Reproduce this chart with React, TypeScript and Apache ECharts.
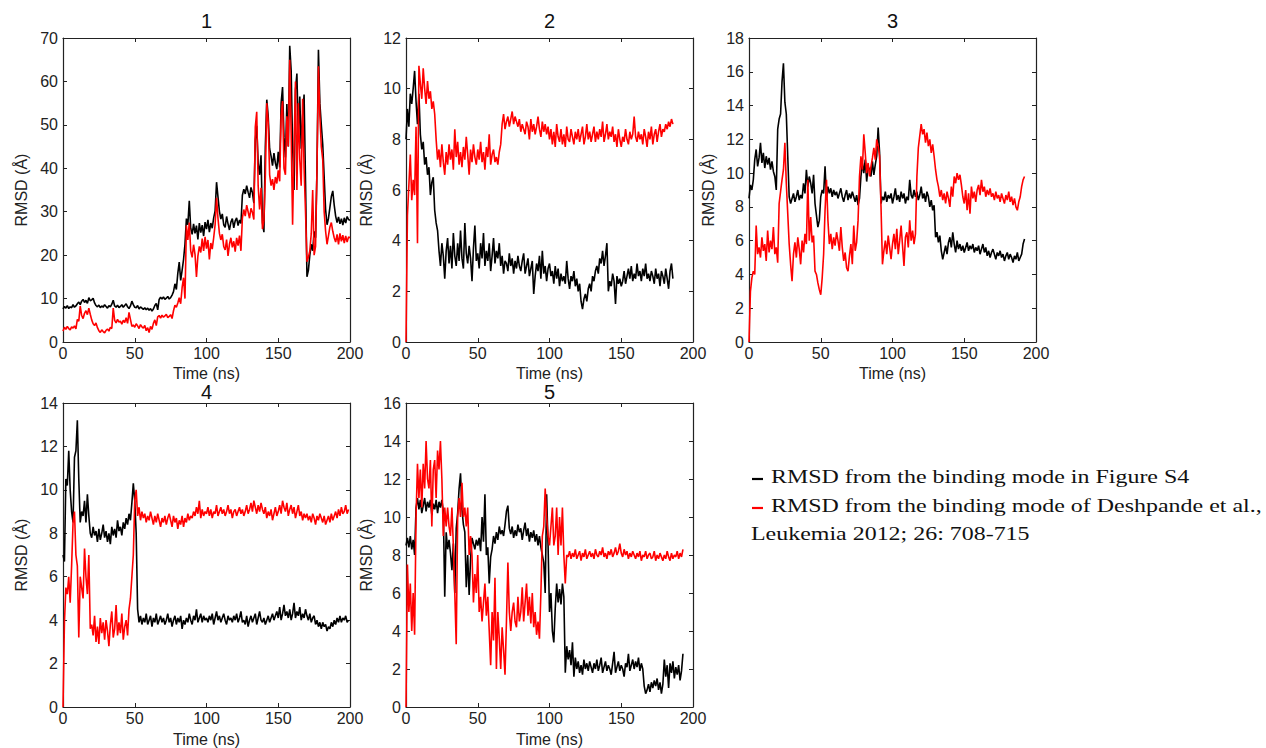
import React, { useEffect, useRef } from "react";
import * as echarts from "echarts";

// ---- data (sampled every 1 ns) ----
const SAMPLE_NS = 1;
const panelTitles = ["1", "2", "3", "4", "5"];
const yMaxes = [70, 12, 18, 14, 16];
const yIntervals = [10, 2, 2, 2, 2];
const xMax = 200;
const xInterval = 50;
const yAxisName = "RMSD (Å)";
const xAxisName = "Time (ns)";
const legendLines = [
  "RMSD from the binding mode in Figure S4",
  "RMSD from the binding mode of Deshpande et al.,",
  "Leukemia 2012; 26: 708-715",
];

const p1Black = [
  7.6, 8.2, 7.8, 8.4, 7.7, 8.1, 7.9, 8.6, 8.0, 8.3,
  8.8, 9.2, 8.6, 9.4, 9.8, 9.1, 9.6, 8.9, 10.2, 9.5,
  9.7, 10.1, 9.0, 8.4, 8.1, 8.5, 7.9, 8.3, 8.0, 8.6,
  8.2, 7.8, 8.4, 8.1, 8.7, 9.6, 8.3, 8.0, 8.5, 7.9,
  8.2, 8.6, 8.0, 8.4, 8.8, 8.1, 7.7, 8.3, 9.4, 8.6,
  8.0, 7.9, 8.4, 7.6, 8.1, 7.8, 7.5, 7.9, 7.4, 7.8,
  7.3, 7.7, 7.1, 7.6, 8.4, 8.9, 7.4, 9.8, 10.3, 9.9,
  10.4, 9.8, 10.1, 10.5, 9.9, 10.2, 10.8, 11.6, 13.4, 12.1,
  15.8, 18.4, 14.2, 16.5, 19.0, 22.5, 28.4, 27.0, 32.5, 26.2,
  24.8, 27.2, 25.0, 26.8, 23.6, 27.4, 25.2, 26.9, 24.4, 27.6,
  26.0, 28.1, 25.3, 27.4, 26.2, 28.6, 30.2, 36.8, 33.4, 30.1,
  28.3, 29.5, 27.0, 26.4, 28.9, 27.2, 25.8, 27.6, 28.4, 26.3,
  27.9, 28.6, 26.8, 28.1, 27.3, 33.8, 35.2, 34.1, 36.0, 34.5,
  33.2, 35.6, 34.4, 32.0, 46.5, 49.8, 41.2, 38.5, 43.0, 27.5,
  25.3, 45.0, 55.8, 52.0, 44.5, 42.8, 40.6, 43.5, 41.2, 39.8,
  43.8, 40.2, 55.0, 58.7, 47.0, 42.5, 54.8, 45.0, 68.2, 62.5,
  45.2, 35.0, 58.0, 61.8, 47.0, 56.5, 44.5, 52.0, 57.0, 37.0,
  15.0, 16.5, 20.0, 22.5, 21.0, 25.5, 24.0, 40.0, 67.3, 55.0,
  50.0, 45.5, 38.0, 30.5, 27.0, 28.5, 31.0, 33.5, 34.8, 31.5,
  29.0, 27.5, 28.8, 27.2, 28.4, 26.9, 28.6, 27.4, 28.9, 28.2,
  28.0,
];
const p1Red = [
  2.5, 3.4, 2.9, 3.6, 3.1, 2.8, 3.5, 3.2, 3.7, 3.0,
  5.2, 4.8, 8.3, 6.1, 5.4, 6.6, 7.2, 6.3, 7.8, 6.4,
  5.1, 4.2, 3.8, 4.4, 3.3, 2.6, 2.2, 2.8, 2.4, 2.1,
  2.7, 3.0, 2.5, 3.4, 3.1, 7.8, 5.0, 4.4, 5.2, 4.6,
  4.8, 4.1, 5.0, 4.5, 5.6, 4.3, 6.8, 5.2, 3.6, 3.9,
  3.4, 4.2, 3.7, 3.1, 4.0, 3.5, 3.2, 3.8, 2.6, 3.3,
  2.2, 3.6, 2.9, 4.3, 5.1, 3.8, 5.8, 6.1, 5.5, 6.2,
  5.7, 6.0, 6.4, 5.6, 5.9, 6.3, 5.4, 7.2, 8.5, 8.0,
  9.0, 10.2, 8.8, 12.5, 14.8, 10.0, 26.8, 23.5, 27.5, 21.0,
  19.5, 22.4, 20.2, 15.0, 19.8, 22.0, 20.6, 23.8, 21.0, 24.2,
  21.5, 23.5, 19.0, 22.8, 21.4, 24.0, 27.0, 33.2, 28.5, 25.0,
  23.5, 24.8, 22.0, 21.2, 23.6, 19.8, 22.5, 24.0, 21.8, 23.2,
  20.8, 24.0, 22.2, 24.5, 21.0, 28.5, 30.5, 29.0, 31.5, 30.0,
  28.5, 30.8, 29.8, 28.2, 49.5, 53.0, 36.0, 30.5, 35.5, 26.0,
  28.0, 38.0, 55.0, 50.5, 38.5, 36.0, 37.5, 35.0, 38.0, 36.5,
  39.5, 37.0, 52.0, 55.5, 40.0, 38.5, 52.0, 45.0, 65.0, 48.0,
  27.0, 45.0, 60.0, 35.0, 55.0, 42.0, 36.0, 56.0, 40.0, 30.0,
  18.5, 19.5, 21.0, 25.0, 35.0, 20.0, 22.0, 40.0, 63.5, 52.0,
  45.0, 42.0, 30.0, 25.5, 22.5, 24.5, 26.5, 27.5, 25.5, 24.0,
  23.0, 24.8, 22.5, 25.0, 23.2, 24.6, 22.8, 24.4, 23.0, 24.2,
  24.0,
];

const p2Black = [
  8.0, 9.2, 8.5, 9.8, 9.4, 10.0, 10.7, 9.5, 8.6, 9.8,
  8.2, 7.6, 7.9, 7.0, 7.3, 6.6, 6.9, 5.8, 6.3, 6.5,
  5.2, 4.7, 4.4, 3.6, 3.0, 3.9, 3.4, 2.5, 3.6, 4.1,
  3.1, 3.8, 2.9, 4.3, 3.4, 3.0, 3.9, 3.2, 4.4, 3.3,
  2.9, 4.7, 3.5, 3.1, 3.8, 3.3, 2.4, 3.7, 4.6, 3.2,
  3.5, 2.9, 3.9, 3.3, 4.3, 3.0, 3.6, 3.2, 3.9, 2.8,
  3.4, 4.1, 3.1, 3.6, 3.3, 3.9, 3.0, 3.4, 2.7, 3.2,
  3.1, 2.8, 3.5, 3.0, 3.3, 2.7, 3.2, 2.9, 3.4, 3.0,
  2.8, 3.2, 3.5, 2.7, 3.0, 3.3, 2.6, 2.9, 3.2, 1.9,
  2.6, 3.1, 2.8, 3.4, 2.5, 3.6, 2.7, 3.0, 2.4, 2.9,
  3.1, 2.6, 2.8, 2.3, 3.0, 2.5, 2.9, 2.2, 2.7, 2.4,
  2.6, 2.3, 3.2, 2.5, 2.1, 2.6, 2.4, 2.8, 2.2, 2.5,
  2.0, 2.3, 1.6, 1.3, 1.7, 1.9, 1.6, 2.1, 2.3, 2.0,
  2.6, 2.4, 2.8, 3.0, 2.7, 3.3, 3.1, 3.6, 3.0, 3.4,
  3.9, 2.0, 2.4, 2.2, 2.7, 2.4, 1.5, 2.6, 2.3, 2.5,
  2.2, 2.4, 2.8, 2.3, 2.6, 2.9, 2.5, 3.0, 2.4, 2.7,
  2.5, 3.1, 2.6, 2.8, 2.4, 2.9, 2.6, 3.1, 2.5, 2.7,
  2.4, 2.8, 2.6, 2.3, 2.9, 2.5, 2.7, 2.2, 2.8, 2.6,
  2.3, 2.9, 2.5, 2.1, 2.8, 3.1, 2.5,
];
const p2Red = [
  0.0, 5.0, 6.2, 7.4, 5.6, 6.4, 5.8, 8.5, 3.9, 10.9,
  10.2, 9.6, 10.8, 10.0, 9.4, 10.3, 9.6, 9.9, 9.2, 9.5,
  9.0, 8.0, 7.2, 7.6, 6.9, 7.8, 7.1, 6.6, 7.5, 7.0,
  7.8, 7.2, 7.6, 6.8, 8.4, 7.3, 7.9, 7.0, 7.5, 6.9,
  7.7, 7.2, 8.1, 7.4, 6.6, 7.6, 7.1, 7.8, 7.3, 7.0,
  7.6, 7.2, 7.9, 7.1, 7.5, 6.8, 7.7, 7.3, 8.2, 7.0,
  7.4, 7.6, 7.1, 7.3, 7.0, 7.5, 7.8, 8.6, 9.0, 8.4,
  8.7, 8.9, 8.5, 8.8, 9.1, 8.6, 8.9, 8.7, 8.5, 8.8,
  8.3, 8.6, 8.4, 8.2, 8.7, 8.5, 8.0, 8.8, 8.3, 8.6,
  8.2, 8.5, 8.9, 8.4, 8.1, 8.7, 8.3, 8.6, 8.2, 8.5,
  8.0, 8.4, 7.8, 8.3, 7.7, 8.6, 8.1, 7.9, 8.4, 7.8,
  8.2, 7.7, 8.5, 8.0, 7.9, 8.4, 8.1, 7.8, 8.3, 8.0,
  8.4, 7.9, 8.2, 8.5, 7.8, 8.1, 8.6, 8.0, 8.3, 7.9,
  8.2, 8.5, 7.9, 8.3, 8.0, 8.4, 8.1, 8.7, 7.9, 8.2,
  8.6, 8.0, 8.3, 8.1, 8.5, 7.9, 8.2, 7.7, 8.4, 8.0,
  7.7, 8.1, 7.9, 8.4, 8.0, 7.8, 8.3, 8.0, 8.2, 8.9,
  8.1, 7.9, 8.3, 8.0, 8.2, 7.8, 8.4, 8.1, 7.7, 8.3,
  8.0, 8.5, 7.8, 8.2, 8.4, 7.9, 8.3, 8.6, 8.1, 8.4,
  8.3, 8.6, 8.4, 8.7, 8.5, 8.8, 8.6,
];

const p3Black = [
  8.5, 9.3, 9.0, 9.6, 10.8, 11.4, 10.4, 10.9, 11.8, 10.6,
  11.2, 10.3, 11.0, 10.5, 10.9, 10.2, 10.7, 10.1, 9.8, 9.0,
  12.6, 13.2, 13.5, 15.4, 16.5, 14.2, 13.5, 11.0, 8.6, 8.2,
  8.5, 8.8, 8.3, 8.6, 9.0, 8.4, 8.7, 8.5, 9.4, 8.8,
  10.2, 9.2, 9.8, 9.4, 8.8, 9.9, 8.2, 7.5, 6.8, 7.2,
  8.6, 9.0, 8.8, 10.4, 8.5, 9.2, 8.8, 9.1, 8.6, 9.0,
  8.7, 8.9, 8.5, 8.8, 9.1, 8.6, 8.3, 8.7, 9.0, 8.4,
  8.8, 8.5, 8.9, 8.6, 8.3, 8.7, 8.1, 8.5, 9.8, 10.6,
  10.0, 10.8, 9.5, 10.4, 10.2, 9.8, 10.7, 9.9, 10.5, 11.0,
  12.7, 11.2, 8.2, 8.6, 8.4, 8.9, 8.3, 8.7, 8.5, 8.8,
  8.2, 8.6, 9.1, 8.4, 8.7, 8.3, 8.9, 8.5, 8.8, 8.2,
  8.6, 8.4, 9.6, 8.7, 8.5, 9.0, 8.6, 8.9, 8.4, 8.7,
  9.2, 8.5, 8.8, 8.3, 8.9, 8.6, 8.0, 8.4, 7.8, 8.1,
  6.2, 6.5, 5.9, 6.3, 5.4, 4.9, 5.3, 5.7, 5.2, 5.9,
  6.2, 5.6, 6.5, 5.8, 5.3, 6.0, 5.5, 5.8, 5.4, 5.7,
  5.3, 5.6, 5.9, 5.4, 5.7, 5.5, 5.8, 5.3, 5.6, 5.4,
  5.7, 5.2, 5.5, 5.8, 5.3, 5.6, 5.1, 5.4, 5.0, 5.3,
  5.5, 5.2, 4.9, 5.3, 5.1, 5.4, 5.0, 5.2, 4.8, 5.1,
  5.3, 4.9, 5.2, 5.0, 4.7, 5.1, 4.9, 5.3, 4.8, 5.0,
  5.2, 5.8, 6.1,
];
const p3Red = [
  0.0, 3.0, 3.8, 4.2, 4.0, 6.9, 5.2, 5.6, 5.0, 6.2,
  5.4, 5.8, 4.8, 6.6, 5.3, 6.0, 5.5, 6.8, 5.2, 5.6,
  4.7, 8.2, 8.9, 9.6, 10.2, 11.8, 9.4, 7.6, 5.8, 4.6,
  3.6, 5.2, 5.9, 5.0, 6.2, 5.5, 4.6, 6.0, 5.3, 6.4,
  5.8, 9.6, 6.0, 7.4, 5.9, 6.3, 4.2, 4.0, 3.5, 3.1,
  2.8, 3.8, 5.2, 7.8, 9.6, 7.2, 5.8, 6.4, 5.5, 6.2,
  5.7, 6.5, 6.0, 5.4, 6.8, 5.6, 4.8, 5.3, 4.4, 4.2,
  5.1, 5.8, 4.6, 6.9, 5.4, 5.9, 7.2, 9.8, 11.0, 10.2,
  12.3, 11.2, 10.0, 10.6, 9.8, 10.4, 10.9, 11.5, 10.8, 12.0,
  11.6, 11.0, 8.0, 4.6, 5.4, 6.0, 5.2, 6.3, 5.6, 4.9,
  5.8, 6.4, 5.5, 6.7, 5.2, 6.0, 6.9, 5.7, 4.5, 6.2,
  6.5, 5.6, 7.2, 6.0, 6.6, 5.8, 6.4, 9.8, 11.5, 12.2,
  12.9, 12.3, 12.6, 11.8, 12.4, 11.6, 12.0, 11.2, 11.7, 11.0,
  10.2, 9.6, 9.2, 8.6, 9.0, 8.4, 8.8, 8.2, 8.9, 8.5,
  8.0, 9.2, 8.6, 9.8, 9.4, 10.0, 9.6, 9.9, 9.3, 8.6,
  8.2, 9.0, 7.8, 8.8, 7.6, 9.2, 8.5, 8.9, 8.3, 9.0,
  9.3, 8.7, 9.6, 8.9, 9.2, 8.6, 9.0, 8.7, 9.1, 8.6,
  8.8, 8.4, 8.9, 8.5, 8.7, 8.3, 8.8, 8.5, 8.2, 8.7,
  8.4, 8.9, 8.3, 8.6, 8.1, 8.5, 8.0, 7.8, 8.3, 8.6,
  9.2, 9.6, 9.8,
];

const p4Black = [
  7.0, 6.7, 10.5, 10.2, 11.8, 10.0, 9.0, 8.5, 11.5, 11.8,
  13.2, 10.5, 8.5, 9.0, 8.8, 9.5, 8.5, 9.8, 8.8, 8.0,
  7.8, 8.3, 7.9, 8.1, 7.6, 8.2, 7.7, 8.0, 8.4, 7.8,
  8.1, 7.6, 8.0, 7.5, 8.3, 7.9, 8.2, 7.8, 8.6, 8.1,
  8.3, 7.9, 8.5, 8.2, 8.7, 8.4, 8.9, 8.6, 9.4, 10.3,
  9.5, 8.0, 4.5, 3.9, 4.2, 3.8, 4.1, 3.9, 4.3, 3.8,
  4.0, 4.2, 3.7, 4.1, 3.9, 4.3, 3.8, 4.0, 4.2, 3.9,
  4.1, 3.8, 4.0, 4.3, 3.9, 4.1, 3.7, 4.0, 4.2, 3.8,
  4.1, 3.9, 4.2, 3.6, 4.0, 3.8, 4.1, 3.9, 4.3, 4.0,
  3.8, 4.2, 4.0, 4.5, 3.9, 4.1, 4.3, 3.9, 4.2, 4.0,
  4.1, 3.9, 4.2, 4.0, 4.3, 3.8, 4.1, 4.4, 4.0, 4.2,
  3.9, 4.1, 4.3, 4.0, 3.8, 4.2, 4.0, 4.1, 3.9, 4.2,
  4.0, 4.3, 3.9, 4.1, 4.4, 3.9, 4.0, 3.8, 4.2, 3.7,
  4.0, 4.2, 3.9, 4.1, 4.3, 3.8, 4.1, 4.4, 4.0, 3.9,
  4.1, 3.8, 4.0, 4.2, 3.9, 4.1, 4.3, 4.0, 4.2, 4.4,
  4.1, 4.6, 4.0, 4.3, 4.7, 4.2, 4.4, 4.1, 4.5, 4.0,
  4.3, 4.8, 4.1, 4.4, 4.2, 4.6, 4.0, 4.3, 4.1, 4.5,
  4.2, 4.0, 4.3, 3.9, 4.1, 4.2, 3.8, 4.0, 3.7, 3.9,
  3.6, 3.9, 3.7, 3.8, 3.5, 3.7, 3.6, 3.9, 3.7, 4.0,
  3.8, 4.1, 3.9, 4.2, 3.9, 4.1, 4.0, 4.2, 3.9, 4.0,
];
const p4Red = [
  0.0, 3.9, 5.5, 5.2, 6.0, 4.8, 6.5, 8.5, 9.0, 7.0,
  6.5, 3.2, 6.0, 5.5, 5.0, 7.3, 6.0, 5.2, 7.0, 3.6,
  3.8, 3.3, 4.2, 3.0, 3.7, 2.9, 4.1, 3.4, 3.9, 3.1,
  4.0, 3.5, 2.8, 3.8, 4.4, 3.2, 3.6, 4.7, 3.3, 3.9,
  3.4, 4.3, 3.1, 3.7, 4.0, 3.3, 4.5, 5.0, 6.0, 7.0,
  9.5, 10.0, 8.8, 9.2, 8.6, 9.0, 8.7, 8.9, 8.5, 8.8,
  8.6, 9.0, 8.7, 8.4, 8.8, 8.5, 8.9, 8.6, 8.3, 8.7,
  8.5, 8.8, 8.4, 8.7, 8.9, 8.6, 8.3, 8.8, 8.5, 8.7,
  8.2, 8.6, 8.4, 8.8, 8.3, 8.7, 8.5, 8.9, 8.6, 8.8,
  8.7, 9.0, 8.8, 9.2, 8.9, 9.5, 8.7, 9.1, 8.8, 9.0,
  8.9, 9.2, 8.8, 9.1, 8.7, 9.0, 8.9, 9.3, 8.8, 9.0,
  9.2, 8.9, 9.1, 8.8, 9.0, 9.3, 8.9, 9.1, 8.7, 9.0,
  9.1, 8.8, 9.0, 9.2, 8.9, 9.1, 8.8, 9.0, 9.3, 8.9,
  9.1, 9.4, 9.0, 9.5, 9.2, 8.9, 9.3, 9.0, 9.4, 9.1,
  8.9, 9.2, 8.7, 9.0, 8.8, 9.1, 8.6, 8.9, 9.2, 8.8,
  9.0, 9.3, 8.9, 9.5, 9.2, 9.0, 9.4, 8.8, 9.1, 9.3,
  8.9, 9.2, 8.7, 9.0, 9.3, 8.8, 9.0, 8.6, 8.9, 8.7,
  8.9, 8.6, 8.8, 8.5, 8.9, 8.7, 8.4, 8.8, 8.6, 8.9,
  8.7, 8.5, 8.8, 8.4, 8.6, 8.8, 8.5, 8.9, 8.6, 8.8,
  9.0, 8.7, 9.1, 8.8, 9.2, 8.9, 9.0, 9.3, 8.9, 9.1,
];

const p5Black = [
  8.5, 8.9, 8.4, 9.0, 8.3, 8.8, 8.0, 10.5, 11.0, 10.4,
  10.9, 10.2, 10.6, 11.0, 10.3, 10.8, 10.5, 10.9, 10.1, 10.7,
  10.4, 10.9, 10.2, 10.8, 10.5, 10.9, 10.3, 5.8, 9.2, 8.3,
  8.8, 8.1, 7.2, 8.6, 6.0, 9.4, 10.2, 11.5, 12.3, 10.4,
  9.6, 9.2, 6.3, 8.0, 5.9, 7.8, 8.9, 8.6, 8.3, 8.8,
  8.5, 8.9, 8.2, 10.0, 8.7, 11.2, 8.0, 8.4, 6.5, 7.9,
  8.3, 9.0, 8.6, 9.2, 8.8, 9.5, 9.1, 9.3, 9.0, 9.6,
  10.3, 10.6, 9.4, 9.1, 9.5, 8.9, 9.3, 9.0, 9.6, 9.2,
  9.4, 8.8, 9.3, 9.7, 9.0, 9.4, 8.7, 9.2, 8.9, 9.3,
  8.7, 9.1, 8.5, 9.0, 8.4, 8.0, 7.6, 6.0, 11.2, 8.5,
  5.0, 6.0, 4.0, 3.4, 5.2, 6.5, 5.5, 6.2, 5.4, 6.5,
  5.8, 1.8, 3.2, 2.5, 3.0, 2.2, 3.4, 1.6, 2.6, 2.0,
  2.4, 1.8, 2.2, 1.7, 2.5, 2.0, 2.3, 1.9, 2.4, 2.1,
  1.8, 2.3, 2.0, 2.5, 1.9, 2.2, 2.6, 1.8, 2.1, 2.4,
  1.9, 2.2, 2.0, 1.7, 2.3, 2.9, 1.8, 2.1, 2.4, 1.9,
  2.2, 2.0, 1.6, 2.3, 2.1, 2.8, 1.9, 2.2, 2.5, 2.0,
  2.4, 2.1, 2.6, 1.9, 2.3, 2.0, 1.1, 0.7, 0.9, 1.2,
  0.8, 1.3, 1.0, 1.4, 1.1, 1.5, 0.9, 1.3, 0.7, 1.2,
  2.5, 1.6, 2.2, 1.0, 2.3, 1.8, 2.4, 1.5, 2.1, 1.7,
  2.2, 1.4, 1.9, 2.8,
];
const p5Red = [
  0.0, 7.5, 5.0, 6.5, 4.0, 6.0, 3.8, 10.0, 12.8, 11.0,
  12.5, 10.5, 12.8, 11.5, 14.0, 12.0, 11.5, 13.0, 9.5, 12.5,
  13.0, 11.0, 13.5, 12.5, 14.0, 12.0, 9.0, 10.5, 9.5, 10.5,
  9.5, 9.0, 10.5, 8.5, 6.0, 3.3, 10.0, 11.0, 10.0, 11.8,
  10.0, 10.5, 9.5, 10.5, 8.0, 9.0, 8.0, 5.5, 7.0, 6.0,
  8.0, 5.0, 5.8, 4.5, 5.5, 6.5, 4.8, 5.8, 4.0, 2.2,
  5.0, 3.5, 6.8, 2.0, 5.0, 3.6, 2.0, 4.2, 3.0, 1.7,
  4.5, 7.6, 5.0, 4.0, 5.0, 5.5, 4.5, 4.2, 5.8, 4.5,
  5.0, 6.3, 4.5, 5.5, 6.5, 4.8, 5.8, 4.4, 6.0, 4.2,
  5.0, 3.8, 4.5, 3.6, 6.0, 9.0, 9.5, 11.5, 10.0, 9.0,
  8.5, 9.5, 10.5, 8.5, 9.0, 10.5, 8.0, 10.0, 8.5, 10.5,
  8.0, 6.5, 8.0, 7.9, 8.2, 7.8, 8.1, 7.9, 8.3, 7.8,
  8.0, 8.2, 7.7, 8.1, 7.9, 8.3, 7.8, 8.0, 8.2, 7.9,
  8.1, 7.8, 8.3, 8.0, 7.9, 8.2, 8.0, 8.4, 7.9, 8.1,
  7.8, 8.2, 8.0, 8.3, 7.9, 8.1, 8.4, 8.0, 8.2, 8.6,
  8.1, 7.9, 8.3, 8.0, 8.2, 7.8, 8.1, 7.9, 8.2, 8.0,
  7.8, 8.1, 7.9, 8.2, 7.7, 8.0, 7.9, 8.2, 7.8, 8.0,
  8.1, 7.8, 7.9, 8.2, 7.7, 8.0, 7.8, 8.1, 7.9, 7.7,
  8.0, 7.8, 8.2, 7.9, 7.7, 8.1, 7.8, 8.0, 7.9, 8.2,
  7.8, 8.1, 7.9, 8.3,
];

const blackSeries = [p1Black, p2Black, p3Black, p4Black, p5Black];
const redSeries = [p1Red, p2Red, p3Red, p4Red, p5Red];

// ---- layout ----
const grids = [
  { left: 63, top: 38, width: 287, height: 304 },
  { left: 406, top: 38, width: 287, height: 304 },
  { left: 749, top: 38, width: 287, height: 304 },
  { left: 63, top: 403, width: 287, height: 305 },
  { left: 406, top: 403, width: 287, height: 305 },
];
const yNameGaps = [34, 32, 33, 34, 32];
const xNameGaps = [23, 23, 23, 24, 24];
const titleOffsets = [17, 17, 17, 11, 11];

const SANS = "'Liberation Sans', Arial, Helvetica, sans-serif";
const SERIF = "'Liberation Serif', 'Times New Roman', serif";
const AX = "#222";
const LEGEND_SCALE_X = 1.26;

const toPairs = (arr: number[]) => arr.map((v, i) => [i * SAMPLE_NS, v]);

export default function App() {
  const ref = useRef<HTMLDivElement>(null);
  useEffect(() => {
    if (!ref.current) return;
    const chart = echarts.init(ref.current, undefined, { renderer: "svg" });

    const tickStyle = { show: true, inside: true, length: 4, lineStyle: { color: AX, width: 1 } };
    const lineStyle = { show: true, onZero: false, lineStyle: { color: AX, width: 1.2 } };
    const labelStyle = { color: "#222", fontSize: 16, fontFamily: SANS };

    const xAxis: any[] = [];
    const yAxis: any[] = [];
    grids.forEach((_, i) => {
      xAxis.push({
        type: "value", gridIndex: i, min: 0, max: xMax, interval: xInterval,
        position: "bottom",
        axisLine: lineStyle, axisTick: tickStyle, splitLine: { show: false },
        axisLabel: { ...labelStyle, margin: 3, showMaxLabel: true, showMinLabel: true },
        name: xAxisName, nameLocation: "middle", nameGap: xNameGaps[i],
        nameTextStyle: { color: "#222", fontSize: 16, fontFamily: SANS },
      });
      yAxis.push({
        type: "value", gridIndex: i, min: 0, max: yMaxes[i], interval: yIntervals[i],
        position: "left",
        axisLine: lineStyle, axisTick: tickStyle, splitLine: { show: false },
        axisLabel: { ...labelStyle, margin: 5 },
        name: yAxisName, nameLocation: "middle", nameGap: yNameGaps[i],
        nameTextStyle: { color: "#222", fontSize: 16, fontFamily: SANS },
      });
    });
    grids.forEach((_, i) => {
      xAxis.push({
        type: "value", gridIndex: i, min: 0, max: xMax, interval: xInterval,
        position: "top",
        axisLine: lineStyle, axisTick: tickStyle, splitLine: { show: false },
        axisLabel: { show: false },
      });
      yAxis.push({
        type: "value", gridIndex: i, min: 0, max: yMaxes[i], interval: yIntervals[i],
        position: "right",
        axisLine: lineStyle, axisTick: tickStyle, splitLine: { show: false },
        axisLabel: { show: false },
      });
    });

    const series: any[] = [];
    grids.forEach((_, i) => {
      series.push({
        type: "line", name: "black" + (i + 1), xAxisIndex: i, yAxisIndex: i,
        data: toPairs(blackSeries[i]), showSymbol: false, symbol: "none",
        lineStyle: { color: "#000", width: 1.6 }, z: 2,
      });
      series.push({
        type: "line", name: "red" + (i + 1), xAxisIndex: i, yAxisIndex: i,
        data: toPairs(redSeries[i]), showSymbol: false, symbol: "none",
        lineStyle: { color: "#ff0000", width: 1.6 }, z: 3,
      });
    });

    const graphic: any[] = [];
    grids.forEach((g, i) => {
      graphic.push({
        type: "text",
        x: g.left + g.width / 2,
        y: g.top - titleOffsets[i],
        style: { text: panelTitles[i], font: `20px ${SANS}`, fill: "#111", align: "center", verticalAlign: "middle" },
      });
    });
    const legendText = (text: string, x: number, y: number) => ({
      type: "text", x, y, scaleX: LEGEND_SCALE_X, scaleY: 1,
      style: { text, font: `19px ${SERIF}`, fill: "#111", align: "left", verticalAlign: "middle" },
    });
    graphic.push(
      { type: "line", shape: { x1: 752, y1: 479, x2: 763, y2: 479 }, style: { stroke: "#000", lineWidth: 2.2 } },
      legendText(legendLines[0], 771, 477),
      { type: "line", shape: { x1: 752, y1: 508, x2: 763, y2: 508 }, style: { stroke: "#ff0000", lineWidth: 2.2 } },
      legendText(legendLines[1], 771, 506),
      legendText(legendLines[2], 751, 534),
    );

    chart.setOption({
      animation: false,
      backgroundColor: "#fff",
      grid: grids.map((g) => ({ ...g, containLabel: false })),
      xAxis,
      yAxis,
      series,
      graphic,
    });
    return () => chart.dispose();
  }, []);

  return (
    <div
      ref={ref}
      style={{ position: "fixed", left: 0, top: 0, width: 1266, height: 748, background: "#fff" }}
    />
  );
}
